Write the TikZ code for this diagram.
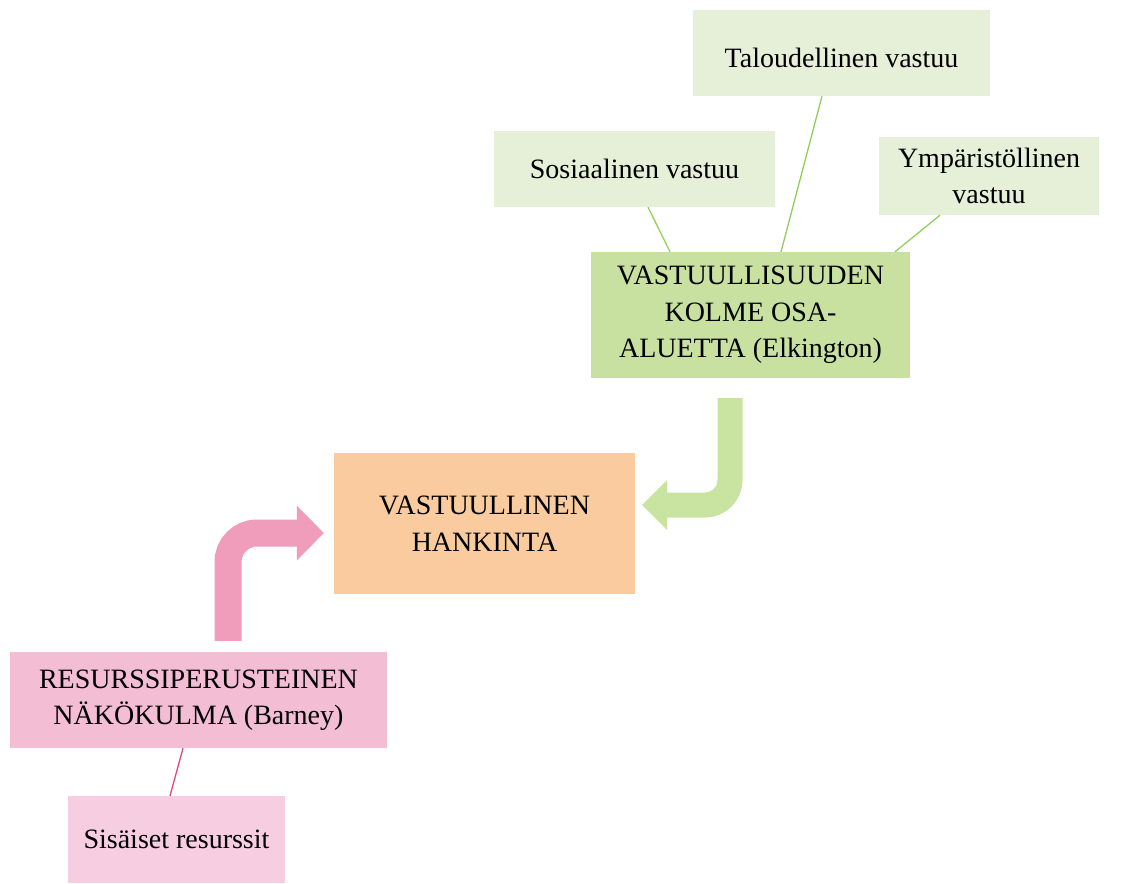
\documentclass[tikz,border=0pt]{standalone}
\usepackage{fontspec}
\setmainfont{Liberation Serif}
\usetikzlibrary{calc}
\definecolor{lgreen}{HTML}{E6F0D8}
\definecolor{mgreen}{HTML}{C8E1A1}
\definecolor{garrow}{HTML}{C9E3A0}
\definecolor{gline}{HTML}{92CF5A}
\definecolor{orangebox}{HTML}{F9CB9E}
\definecolor{pinkbox}{HTML}{F3BDD4}
\definecolor{lpinkbox}{HTML}{F7CDE1}
\definecolor{parrow}{HTML}{F09DBB}
\definecolor{pline}{HTML}{E8457A}
\tikzset{
  box/.style={draw=none, inner sep=0pt, align=center, font=\fontsize{28}{36.5}\selectfont, text=black},
  gconn/.style={draw=gline, line width=1.3pt},
  pconn/.style={draw=pline, line width=1.3pt},
}
\begin{document}
\begin{tikzpicture}[x=1pt,y=-1pt]
\useasboundingbox (0,0) rectangle (1126,883);
\node[box, fill=lgreen, minimum width=297pt, minimum height=86pt, text height=29pt, text depth=0pt] (tal) at (841.5,53) {Taloudellinen vastuu};
\node[box, fill=lgreen, minimum width=281pt, minimum height=76pt] (sos) at (634.5,169) {Sosiaalinen vastuu};
\node[box, fill=lgreen, minimum width=220pt, minimum height=78pt] (ymp) at (989,176) {Ympäristöllinen\\vastuu};
\node[box, fill=mgreen, minimum width=319pt, minimum height=126pt] (vas) at (750.5,315) {VASTUULLISUUDEN\\KOLME OSA-\\ALUETTA (Elkington)};
\node[box, fill=orangebox, minimum width=301pt, minimum height=141pt] (han) at (484.5,523.5) {VASTUULLINEN\\HANKINTA};
\node[box, fill=pinkbox, minimum width=377pt, minimum height=96pt] (res) at (198.5,700) {RESURSSIPERUSTEINEN\\NÄKÖKULMA (Barney)};
\node[box, fill=lpinkbox, minimum width=217pt, minimum height=87pt] (sis) at (176.5,839.5) {Sisäiset resurssit};

\draw[gconn] ($(sos.south)+(13.5,0)$) -- ($(vas.north)+(-80.5,0)$);
\draw[gconn] ($(tal.south)+(-19.5,0)$) -- ($(vas.north)+(30.5,0)$);
\draw[gconn] ($(ymp.south)+(-49,0)$) -- ($(vas.north)+(144.5,0)$);
\draw[pconn] ($(res.south)+(-15.5,0)$) -- ($(sis.north)+(-6.5,0)$);

% pink bent arrow
\coordinate (ptip) at ($(han.west)+(-10,9.5)$);
\coordinate (pstart) at ($(res.north)+(29.5,-11)$);
\draw[parrow, line width=27pt, rounded corners=29pt] (pstart) |- ($(ptip)+(-27,0)$);
\fill[parrow] (ptip) -- ++(-27,-27.5) -- ++(0,55) -- cycle;

% green bent arrow
\coordinate (gtip) at ($(han.east)+(7,-18.5)$);
\coordinate (gstart) at ($(vas.south)+(-20.5,20)$);
\draw[garrow, line width=25pt, rounded corners=25pt] (gstart) |- ($(gtip)+(25,0)$);
\fill[garrow] (gtip) -- ++(25,-25) -- ++(0,50) -- cycle;
\end{tikzpicture}
\end{document}
